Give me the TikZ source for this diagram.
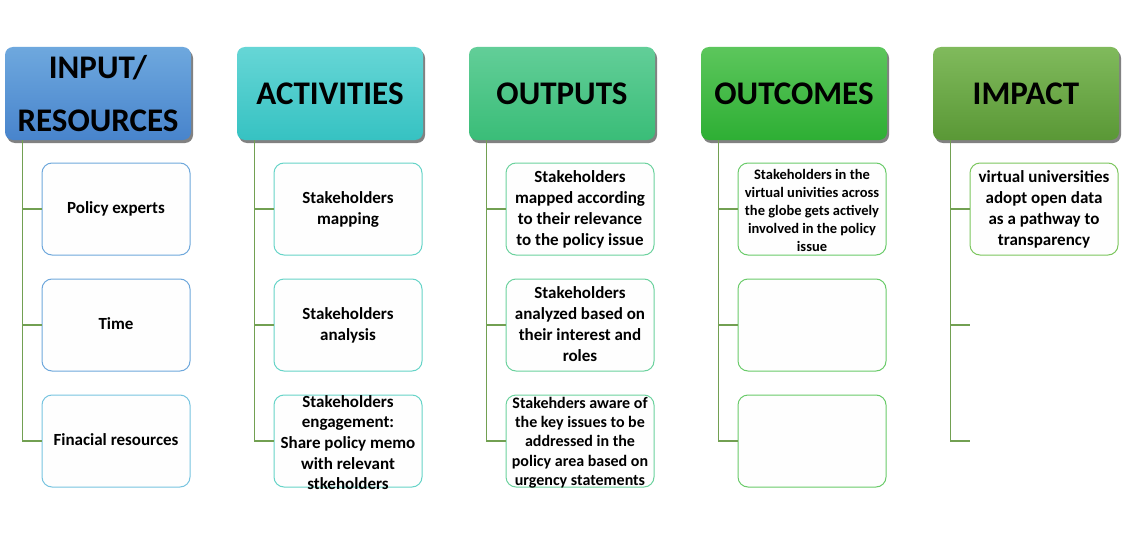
\documentclass[tikz,border=0pt]{standalone}
\usepackage{fontspec}
\setmainfont{Carlito}
\usetikzlibrary{shadows, positioning}

\definecolor{inputtop}{HTML}{6EA8DE}
\definecolor{inputbot}{HTML}{4884CC}
\definecolor{acttop}{HTML}{66D6D6}
\definecolor{actbot}{HTML}{36C2C2}
\definecolor{outtop}{HTML}{62CE98}
\definecolor{outbot}{HTML}{3ABD78}
\definecolor{ocmtop}{HTML}{5CC65C}
\definecolor{ocmbot}{HTML}{2EAF34}
\definecolor{imptop}{HTML}{80BA5C}
\definecolor{impbot}{HTML}{5A9836}
\definecolor{inputline}{HTML}{6FA8DC}
\definecolor{resline}{HTML}{78C4E0}
\definecolor{actline}{HTML}{66D4C8}
\definecolor{outline}{HTML}{6CD29E}
\definecolor{ocmline}{HTML}{6ACB6A}
\definecolor{impline}{HTML}{7CC65E}
\definecolor{linegreen}{HTML}{72A052}

\begin{document}
\begin{tikzpicture}[x=1pt, y=-1pt,
    head box/.style 2 args = {
        rectangle,
        rounded corners=8pt,
        minimum width=186pt,
        minimum height=93pt,
        top color=#1,
        bottom color=#2,
        draw=none,
        drop shadow={shadow xshift=2pt, shadow yshift=-3pt, fill=black!70, opacity=.7},
        font=\fontsize{33}{53}\selectfont\bfseries,
        align=center,
        inner sep=2pt
    },
    item box/.style = {
        rectangle,
        rounded corners=10pt,
        draw=#1,
        line width=1pt,
        fill=black!0.5,
        minimum width=148pt,
        minimum height=92pt,
        font=\fontsize{17}{20.7}\selectfont\bfseries,
        align=center,
        text depth=2pt,
        inner sep=2pt
    },
    item text/.style 2 args = {align=center, inner sep=0pt, yshift=-1.5pt, font=\fontsize{#1}{#2}\selectfont\bfseries},
    branch/.style = {draw=linegreen, line width=1.1pt}
]

\fill[white] (0,0) rectangle (1124,535);
\useasboundingbox (0,0) rectangle (1124,535);

% column heads
\node [head box={inputtop}{inputbot}] (inhead) at (98,93.5) {INPUT/\\RESOURCES};
\node [head box={acttop}{actbot}] (acthead) at (330,93.5) {ACTIVITIES};
\node [head box={outtop}{outbot}] (outhead) at (562,93.5) {OUTPUTS};
\node [head box={ocmtop}{ocmbot}] (ocmhead) at (794,93.5) {OUTCOMES};
\node [head box={imptop}{impbot}] (imphead) at (1026,93.5) {IMPACT};

% input / resources
\node [item box=inputline] (in1) at (116,209) {Policy experts};
\node [item box=inputline] (in2) at (116,325) {Time};
\node [item box=resline] (in3) at (116,441) {Finacial resources};

% activities
\node [item box=actline] (act1) at (348,209) {Stakeholders\\mapping};
\node [item box=actline] (act2) at (348,325) {Stakeholders\\analysis};
\node [item box=actline] (act3) at (348,441) {};
\node [item text={17}{20.7}] at (act3) {Stakeholders\\engagement:\\Share policy memo\\with relevant\\stkeholders};

% outputs
\node [item box=outline] (out1) at (580,209) {Stakeholders\\mapped according\\to their relevance\\to the policy issue};
\node [item box=outline] (out2) at (580,325) {Stakeholders\\analyzed based on\\their interest and\\roles};
\node [item box=outline] (out3) at (580,441) {};
\node [item text={16}{19.3}] at (out3) {Stakehders aware of\\the key issues to be\\addressed in the\\policy area based on\\urgency statements};

% outcomes
\node [item box=ocmline] (ocm1) at (812,209) {};
\node [item text={14.5}{17.8}] at (ocm1) {Stakeholders in the\\virtual univities across\\the globe gets actively\\involved in the policy\\issue};
\node [item box=ocmline] (ocm2) at (812,325) {};
\node [item box=ocmline] (ocm3) at (812,441) {};

% impact
\node [item box=impline] (imp1) at (1044,209) {virtual universities\\adopt open data\\as a pathway to\\transparency};
\coordinate (imp2) at (970,325);
\coordinate (imp3) at (970,441);

% branches
\foreach \h/\c in {inhead/in, acthead/act, outhead/out, ocmhead/ocm, imphead/imp} {
    \draw[branch] ([xshift=18pt]\h.south west) |- (\c3.west);
    \draw[branch] ([xshift=18pt]\h.south west) |- (\c2.west);
    \draw[branch] ([xshift=18pt]\h.south west) |- (\c1.west);
}

\end{tikzpicture}
\end{document}
